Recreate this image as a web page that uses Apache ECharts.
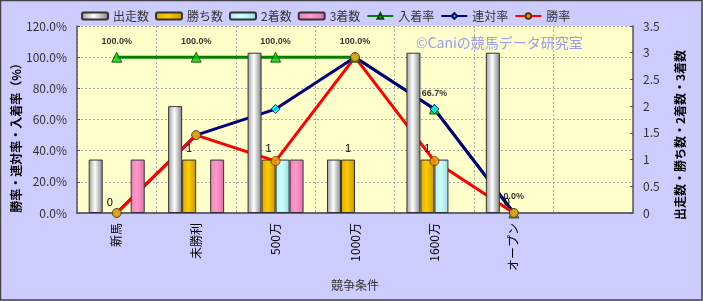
<!DOCTYPE html>
<html><head><meta charset="utf-8">
<script src="https://cdn.jsdelivr.net/npm/echarts@6/dist/echarts.min.js"></script>
<style>html,body{margin:0;padding:0;background:#CCCCFF}#c{width:703px;height:301px}</style>
</head><body><div id="c"></div>
<script>
const categories = ['新馬','未勝利','500万','1000万','1600万','オープン',''];
const starts  = [1,2,3,1,3,3];
const wins    = [0,1,1,1,1,0];
const seconds = [0,0,1,0,1,0];
const thirds  = [1,1,1,0,0,0];
const placeRate = [100,100,100,100,66.7,0];
const top2Rate  = [0,50,66.7,100,66.7,0];
const winRate   = [0,50,33.3,100,33.3,0];
const leftAxis  = {min:0, max:120, interval:20};
const rightAxis = {min:0, max:3.5, interval:0.5};
const leftTitle = '勝率・連対率・入着率（%）';
const rightTitle = '出走数・勝ち数・2着数・3着数';

const FONT = '"Noto Sans CJK JP", sans-serif';
const chart = echarts.init(document.getElementById('c'), null, {renderer:'canvas'});

function grad(a,b,c){
  return {type:'linear',x:0,y:0,x2:1,y2:0,colorStops:[{offset:0,color:a},{offset:0.45,color:b},{offset:1,color:c}]};
}
// zero-height bars: no outline
const barData = arr => arr.map(v => v === 0 ? {value:0, itemStyle:{borderWidth:0}} : v);
const barBase = {type:'bar', yAxisIndex:1, barWidth:14, barGap:'0%', z:2};
const lineStyleOf = c => ({color:c, width:3});

const markers = {
  '入着率': {symbol:'triangle', size:10, fill:'#00cc00', border:'#004400', line:'#008000', data:placeRate},
  '連対率': {symbol:'diamond', size:9, fill:'#00ffff', border:'#000060', line:'#000080', data:top2Rate},
  '勝率':   {symbol:'circle', size:9, fill:'#ff9900', border:'#553300', line:'#ff0000', data:winRate}
};
const lineSeries = [], dotSeries = [];
Object.keys(markers).forEach(name => {
  const m = markers[name];
  lineSeries.push({name, type:'line', yAxisIndex:0, data:m.data, z:1, showSymbol:false,
    symbol:m.symbol, symbolSize:m.size, lineStyle:lineStyleOf(m.line),
    itemStyle:{color:m.fill, borderColor:m.border, borderWidth:1}, animation:false});
  const s = {name, type:'scatter', yAxisIndex:0, data:m.data, z:3, symbol:m.symbol, symbolSize:m.size,
    itemStyle:{color:m.fill, borderColor:m.border, borderWidth:1}, animation:false};
  if (name === '入着率') {
    s.label = {show:true, position:'top', distance:6, formatter:p => p.value.toFixed(1)+'%',
      fontSize:9, fontWeight:'bold', color:'#000', fontFamily:'Arial, sans-serif'};
  }
  dotSeries.push(s);
});

const titleStyle = t => ({text:t, fill:'#000', font:'bold 12px "Noto Sans CJK JP"', align:'center', verticalAlign:'middle'});

chart.setOption({
  backgroundColor:'#CCCCFF',
  animation:false,
  textStyle:{fontFamily:FONT},
  graphic:[
    {type:'rect', shape:{x:0.5,y:0.5,width:701.5,height:299.5}, style:{fill:null, stroke:'#444', lineWidth:1.5}, z:100},
    {type:'text', left:416, top:36, style:{text:'©Caniの競馬データ研究室', fill:'#9c9cf0', font:'14px "Noto Sans CJK JP"'}, z:50},
    {type:'text', x:16, y:135, rotation:Math.PI/2, style:titleStyle(leftTitle), z:50},
    {type:'text', x:680, y:135, rotation:Math.PI/2, style:titleStyle(rightTitle), z:50}
  ],
  legend:{left:81, top:10, padding:0, itemWidth:26, itemHeight:7, itemGap:6,
    textStyle:{fontSize:12, color:'#333', fontFamily:FONT},
    data:['出走数','勝ち数','2着数','3着数','入着率','連対率','勝率']},
  grid:{left:77, right:70, top:26, bottom:88, outerBoundsMode:'none', containLabel:false,
    show:true, backgroundColor:'#FFFFCC', borderWidth:0},
  xAxis:{type:'category', data:categories, boundaryGap:true,
    name:'競争条件', nameLocation:'middle', nameGap:66,
    nameTextStyle:{fontSize:12, color:'#333', fontFamily:FONT},
    axisLine:{lineStyle:{color:'#666', width:2}},
    axisTick:{show:false},
    axisLabel:{rotate:90, fontSize:12, color:'#000', margin:10, fontFamily:FONT, interval:0},
    splitLine:{show:true, interval:0, lineStyle:{color:'#aaa', type:[2,2], width:1}}},
  yAxis:[
    {type:'value', position:'left', min:leftAxis.min, max:leftAxis.max, interval:leftAxis.interval,
      axisLine:{show:true, lineStyle:{color:'#555', width:1.5}},
      axisTick:{show:true, inside:true, length:3, lineStyle:{color:'#555'}},
      axisLabel:{formatter:v => v.toFixed(1)+'%', fontSize:12, color:'#333', margin:10, fontFamily:FONT},
      splitLine:{show:true, lineStyle:{color:'#aaa', type:[2,2], width:1}}},
    {type:'value', position:'right', min:rightAxis.min, max:rightAxis.max, interval:rightAxis.interval,
      axisLine:{show:true, lineStyle:{color:'#555', width:1.5}},
      axisTick:{show:true, inside:true, length:3, lineStyle:{color:'#555'}},
      axisLabel:{fontSize:12, color:'#333', margin:10, fontFamily:FONT},
      splitLine:{show:false}}
  ],
  series:[
    ...lineSeries,
    Object.assign({}, barBase, {name:'出走数', data:barData(starts),
      itemStyle:{color:grad('#9a9a9a','#ffffff','#808080'), borderColor:'#333', borderWidth:1}}),
    Object.assign({}, barBase, {name:'勝ち数', data:barData(wins),
      itemStyle:{color:grad('#e0a800','#ffcc00','#c89600'), borderColor:'#333', borderWidth:1},
      label:{show:true, position:'top', distance:5, fontSize:11, color:'#000', fontFamily:'Arial, sans-serif'}}),
    Object.assign({}, barBase, {name:'2着数', data:barData(seconds),
      itemStyle:{color:grad('#b8eeee','#ccffff','#99dddd'), borderColor:'#333', borderWidth:1}}),
    Object.assign({}, barBase, {name:'3着数', data:barData(thirds),
      itemStyle:{color:grad('#f080b8','#ff99cc','#e070a8'), borderColor:'#333', borderWidth:1}}),
    ...dotSeries
  ]
});
</script></body></html>
